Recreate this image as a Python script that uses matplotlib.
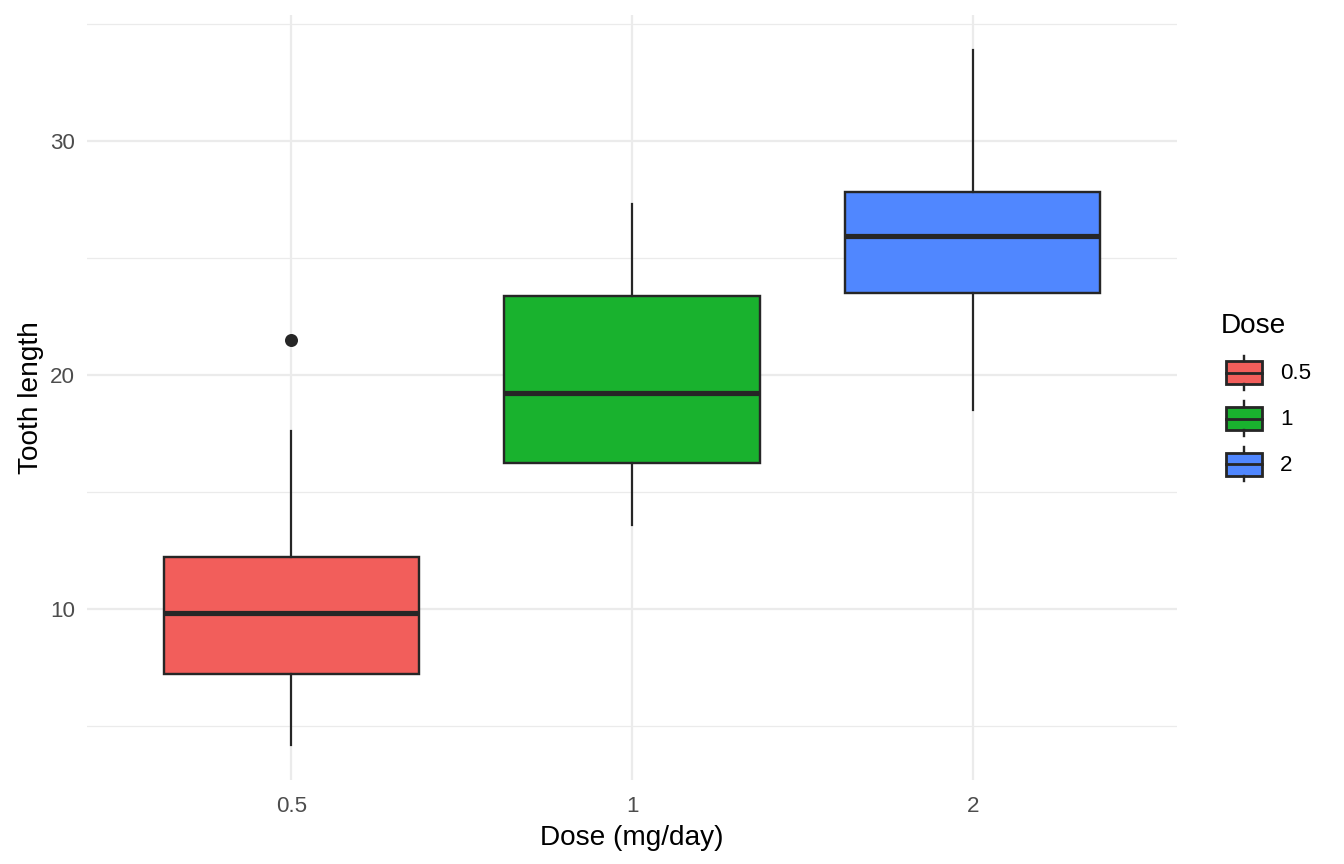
import matplotlib
matplotlib.use("Agg")
from matplotlib import pyplot as plt
from matplotlib.patches import Rectangle
from matplotlib.lines import Line2D
from matplotlib.legend_handler import HandlerBase

plt.rcParams['font.family'] = ['Liberation Sans', 'DejaVu Sans']

# ToothGrowth tooth length by dose: five-number summaries
doses = ['0.5', '1', '2']
lower_whisker = [4.2, 13.6, 18.5]
q1 = [7.225, 16.25, 23.525]
median = [9.85, 19.25, 25.95]
q3 = [12.25, 23.375, 27.825]
upper_whisker = [17.6, 27.3, 33.9]
outliers = [[21.5], [], []]
fills = ['#F25E5B', '#19B22E', '#5087FF']

edge = '#262626'

stats = []
for i, d in enumerate(doses):
    stats.append(dict(label=d, whislo=lower_whisker[i], q1=q1[i], med=median[i],
                      q3=q3[i], whishi=upper_whisker[i], fliers=outliers[i]))

fig = plt.figure(figsize=(1344 / 144, 864 / 144), dpi=144)
ax = fig.add_axes([87 / 1344, 1 - 780 / 864, (1177 - 87) / 1344, (780 - 15) / 864])

positions = list(range(1, len(doses) + 1))
bp = ax.bxp(stats, positions=positions, widths=0.75, patch_artist=True, showcaps=False,
            boxprops=dict(edgecolor=edge, linewidth=1.2),
            medianprops=dict(color=edge, linewidth=2.6, solid_capstyle='butt'),
            whiskerprops=dict(color=edge, linewidth=1.1),
            flierprops=dict(marker='o', markerfacecolor=edge, markeredgecolor=edge,
                            markersize=5.5))
for patch, c in zip(bp['boxes'], fills):
    patch.set_facecolor(c)
    patch.set_zorder(3)
for k in ('medians', 'whiskers', 'fliers'):
    for a in bp[k]:
        a.set_zorder(4)

ax.set_xlim(0.4, len(doses) + 0.6)
lo, hi = min(lower_whisker), max(upper_whisker)
pad = (hi - lo) * 0.05
ax.set_ylim(lo - pad, hi + pad)

ax.set_xticks(positions)
ax.set_xticklabels(doses)
ax.set_yticks([10, 20, 30])
ax.set_yticks([5, 15, 25, 35], minor=True)
ax.grid(True, which='major', color='#EBEBEB', linewidth=1.1, zorder=0)
ax.grid(True, which='minor', axis='y', color='#EBEBEB', linewidth=0.6, zorder=0)
ax.set_axisbelow(True)
for s in ax.spines.values():
    s.set_visible(False)
ax.tick_params(axis='both', which='both', length=0, labelsize=11.2, labelcolor='#4D4D4D')
ax.tick_params(axis='y', pad=6)
ax.tick_params(axis='x', pad=8)

ax.set_xlabel('Dose (mg/day)', fontsize=14, labelpad=4)
ax.set_ylabel('Tooth length', fontsize=14, labelpad=3)


class BoxKey(HandlerBase):
    def __init__(self, color):
        super().__init__()
        self.color = color

    def create_artists(self, legend, orig_handle, xdescent, ydescent, width, height,
                       fontsize, trans):
        x0, y0 = -xdescent, -ydescent
        cx = x0 + width / 2
        bw, bh = width * 0.78, height * 0.52
        rect = Rectangle((cx - bw / 2, y0 + (height - bh) / 2), bw, bh,
                         facecolor=self.color, edgecolor=edge, linewidth=1.4, transform=trans)
        mid = Line2D([cx - bw / 2, cx + bw / 2], [y0 + height / 2] * 2, color=edge,
                     linewidth=1.4, transform=trans)
        top = Line2D([cx, cx], [y0 + (height + bh) / 2, y0 + height * 0.87], color=edge,
                     linewidth=1.2, transform=trans)
        bot = Line2D([cx, cx], [y0 + (height - bh) / 2, y0 + height * 0.13], color=edge,
                     linewidth=1.2, transform=trans)
        return [rect, mid, top, bot]


handles = [Rectangle((0, 0), 1, 1) for _ in doses]
handler_map = {h: BoxKey(c) for h, c in zip(handles, fills)}
leg = fig.legend(handles, doses, handler_map=handler_map, title='Dose',
                 loc='center left', bbox_to_anchor=(1221 / 1344, 1 - 400 / 864),
                 frameon=False, fontsize=11.2, title_fontsize=14, alignment='left',
                 handlelength=2.05, handleheight=2.78, labelspacing=0.0,
                 handletextpad=0.6, borderpad=0, borderaxespad=0)
leg._legend_box.sep = 5.5

fig.savefig('out.png', dpi=144)
